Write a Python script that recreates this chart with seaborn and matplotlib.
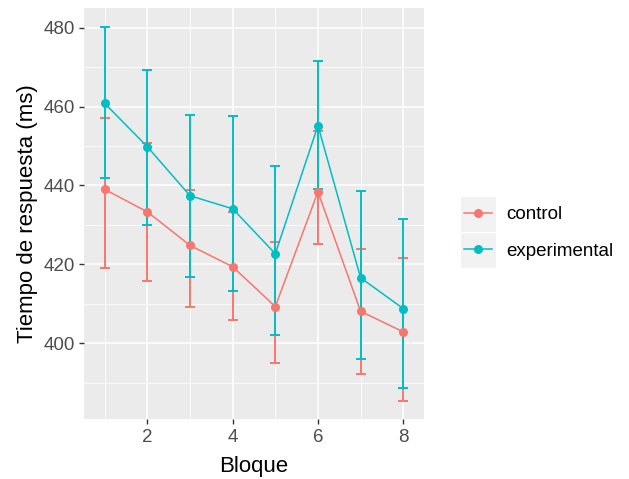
import matplotlib
matplotlib.use("Agg")
import matplotlib.pyplot as plt
import seaborn as sns
import pandas as pd
from matplotlib.ticker import MultipleLocator
from matplotlib.lines import Line2D
from matplotlib.patches import Rectangle

# Data
bloque = [1, 2, 3, 4, 5, 6, 7, 8]
control_mean = [439.0, 433.3, 424.8, 419.4, 409.3, 438.4, 408.1, 402.9]
control_lo   = [419.0, 415.8, 409.3, 406.0, 395.0, 425.2, 392.2, 385.3]
control_hi   = [457.2, 450.7, 438.9, 433.3, 425.6, 453.7, 423.9, 421.5]
exp_mean = [460.8, 449.8, 437.4, 434.1, 422.7, 455.2, 416.6, 408.8]
exp_lo   = [441.9, 430.1, 416.9, 413.3, 402.0, 439.2, 395.9, 388.6]
exp_hi   = [480.3, 469.4, 457.9, 457.6, 445.0, 471.5, 438.5, 431.6]
grupos = ["control", "experimental"]
COLORS = {"control": "#F8766D", "experimental": "#00BFC4"}

df = pd.DataFrame({
    "bloque": bloque * 2,
    "tiempo": control_mean + exp_mean,
    "lo": control_lo + exp_lo,
    "hi": control_hi + exp_hi,
    "grupo": ["control"] * 8 + ["experimental"] * 8,
})

plt.rcParams["font.family"] = ["Liberation Sans", "DejaVu Sans"]

fig = plt.figure(figsize=(6.29, 4.79), dpi=100)
ax = fig.add_axes([84 / 629, 1 - 419 / 479, (424 - 84) / 629, (419 - 8) / 479])
ax.set_facecolor("#EBEBEB")

for i, g in enumerate(grupos):
    sub = df[df["grupo"] == g]
    ax.errorbar(sub["bloque"], sub["tiempo"],
                yerr=[sub["tiempo"] - sub["lo"], sub["hi"] - sub["tiempo"]],
                fmt="none", ecolor=COLORS[g], elinewidth=1.4,
                capsize=3.6, capthick=1.4, zorder=3 + i)

sns.lineplot(data=df, x="bloque", y="tiempo", hue="grupo", palette=COLORS,
             marker="o", markersize=6.5, markeredgewidth=0, linewidth=1.1,
             ax=ax, legend=False, zorder=5)

ax.set_xlim(0.5125, 8.4875)
ax.set_ylim(380.8, 485.0)
ax.set_xticks([2, 4, 6, 8])
ax.xaxis.set_minor_locator(MultipleLocator(1))
ax.set_yticks([400, 420, 440, 460, 480])
ax.yaxis.set_minor_locator(MultipleLocator(10))
ax.grid(which="major", color="white", linewidth=1.1)
ax.grid(which="minor", color="white", linewidth=0.55)
ax.set_axisbelow(True)
for s in ax.spines.values():
    s.set_visible(False)
ax.tick_params(which="major", length=3.5, width=1, color="#333333",
               labelsize=13.5, labelcolor="#4D4D4D", pad=3)
ax.tick_params(axis="x", which="major", pad=4)
ax.tick_params(which="minor", length=0)

ax.set_xlabel("Bloque", fontsize=16, color="black", labelpad=7)
ax.set_ylabel("Tiempo de respuesta (ms)", fontsize=16, color="black", labelpad=4)

# Legend with grey key backgrounds
for k in range(2):
    y0 = 197 + k * 36
    fig.patches.append(Rectangle((461 / 629, 1 - (y0 + 35) / 479), 35 / 629, 35 / 479,
                                 transform=fig.transFigure, facecolor="#F2F2F2",
                                 edgecolor="none", zorder=0))
handles = [Line2D([0], [0], color=COLORS[g], linewidth=1.1, marker="o",
                  markersize=6.5, markeredgewidth=0) for g in grupos]
fig.legend(handles, grupos, loc="center left",
           bbox_to_anchor=(464 / 629, 1 - 233 / 479), frameon=False,
           fontsize=13.5, handlelength=1.5, handletextpad=0.75,
           labelspacing=1.05, borderpad=0, borderaxespad=0)

fig.savefig("out.png", dpi=100)
